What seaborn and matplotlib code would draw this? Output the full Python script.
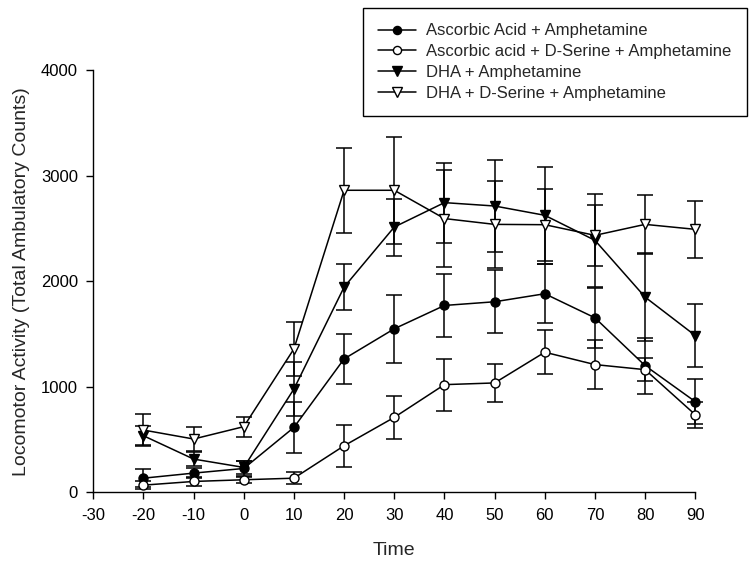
import matplotlib
matplotlib.use("Agg")
import matplotlib.pyplot as plt
import seaborn as sns
import pandas as pd
import numpy as np

time = [-20, -10, 0, 10, 20, 30, 40, 50, 60, 70, 80, 90]

aa_amph = [134, 182, 226, 615, 1264, 1549, 1770, 1805, 1881, 1653, 1200, 859]
aa_amph_err = [86, 50, 73, 240, 240, 320, 300, 300, 280, 285, 265, 215]

aa_dser = [68, 103, 119, 134, 441, 710, 1020, 1036, 1327, 1210, 1162, 735]
aa_dser_err = [38, 40, 30, 55, 200, 205, 247, 180, 210, 230, 110, 125]

dha_amph = [536, 315, 236, 979, 1944, 2513, 2744, 2712, 2624, 2387, 1849, 1485]
dha_amph_err = [88, 70, 60, 260, 220, 270, 380, 437, 458, 438, 417, 300]

dha_dser = [590, 505, 622, 1359, 2861, 2861, 2593, 2538, 2535, 2434, 2538, 2491]
dha_dser_err = [150, 110, 95, 258, 400, 505, 460, 410, 342, 290, 280, 270]

labels = ["Ascorbic Acid + Amphetamine",
          "Ascorbic acid + D-Serine + Amphetamine",
          "DHA + Amphetamine",
          "DHA + D-Serine + Amphetamine"]

x_ticks = [-30, -20, -10, 0, 10, 20, 30, 40, 50, 60, 70, 80, 90]
y_ticks = [0, 1000, 2000, 3000, 4000]

sns.set_style("ticks")
plt.rcParams["font.family"] = ["Liberation Sans", "DejaVu Sans"]
plt.rcParams["axes.unicode_minus"] = False

fig = plt.figure(figsize=(7.51, 5.67), dpi=100)
ax = fig.add_axes([0.1242, 0.1317, 0.9258 - 0.1242, 0.8765 - 0.1317])

series = [
    (aa_amph, aa_amph_err, "o", "black", 6.5),
    (aa_dser, aa_dser_err, "o", "white", 6.5),
    (dha_amph, dha_amph_err, "v", "black", 7.5),
    (dha_dser, dha_dser_err, "v", "white", 7.5),
]

for (vals, errs, mk, fc, ms), lab in zip(series, labels):
    eb = ax.errorbar(time, vals, yerr=errs, fmt="none", ecolor="black",
                     elinewidth=1.1, capsize=5.5, capthick=1.1, zorder=2)
    for art in eb.lines[1] + eb.lines[2]:
        art.set_clip_on(False)
    df = pd.DataFrame({"Time": time, "Value": vals})
    sns.lineplot(data=df, x="Time", y="Value", ax=ax, color="black",
                 linewidth=1.1, marker=mk, markersize=ms,
                 markerfacecolor=fc, markeredgecolor="black",
                 markeredgewidth=1.0, label=lab, zorder=3, clip_on=False)

ax.set_xlim(-30, 90)
ax.set_ylim(0, 4000)
ax.set_xticks(x_ticks)
ax.set_yticks(y_ticks)
ax.tick_params(axis="both", direction="out", length=5, width=1,
               labelsize=12, colors="black", pad=6)
for s in ["top", "right"]:
    ax.spines[s].set_visible(False)
for s in ["left", "bottom"]:
    ax.spines[s].set_linewidth(1)
    ax.spines[s].set_color("black")

ax.set_xlabel("Time", fontsize=14, labelpad=14)
ax.set_ylabel("Locomotor Activity (Total Ambulatory Counts)", fontsize=14, labelpad=8)

handles, labs = ax.get_legend_handles_labels()
ax.get_legend().remove()
leg = fig.legend(handles, labs, loc="upper left",
                 bbox_to_anchor=(0.4834, 0.9853), fontsize=12,
                 frameon=True, fancybox=False, framealpha=1,
                 edgecolor="black", borderpad=0.9, labelspacing=0.35,
                 handlelength=2.3, handletextpad=0.6, markerscale=0.9,
                 borderaxespad=0)
leg.get_frame().set_linewidth(1)

fig.savefig("out.png", dpi=100)
